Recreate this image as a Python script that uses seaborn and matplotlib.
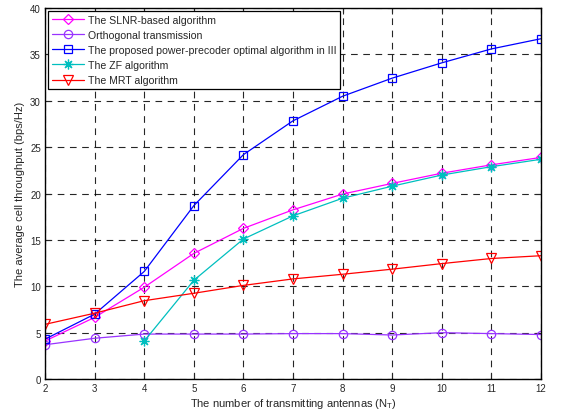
import numpy as np
import pandas as pd
import matplotlib
matplotlib.use('Agg')
import matplotlib.pyplot as plt
import seaborn as sns

# Data
antennas = [2, 3, 4, 5, 6, 7, 8, 9, 10, 11, 12]
slnr = [4.1, 6.65, 9.9, 13.55, 16.25, 18.25, 19.95, 21.1, 22.2, 23.1, 23.9]
orthogonal = [3.7, 4.4, 4.85, 4.85, 4.85, 4.9, 4.9, 4.75, 5.0, 4.9, 4.8]
proposed = [4.3, 7.0, 11.6, 18.7, 24.2, 27.85, 30.5, 32.45, 34.1, 35.6, 36.7]
zf_antennas = [4, 5, 6, 7, 8, 9, 10, 11, 12]
zf = [4.1, 10.65, 15.1, 17.6, 19.5, 20.8, 22.0, 22.9, 23.7]
mrt = [5.9, 7.1, 8.45, 9.25, 10.1, 10.8, 11.3, 11.85, 12.45, 13.0, 13.3]

# MATLAB-like marker shapes; (8, 2, 0) is an 8-armed asterisk
series = [
    ("The SLNR-based algorithm", antennas, slnr, "#ff00ff", "D", 5.0),
    ("Orthogonal transmission", antennas, orthogonal, "#9933ff", "o", 6.0),
    ("The proposed power-precoder optimal algorithm in III", antennas, proposed, "#0000ff", "s", 5.5),
    ("The ZF algorithm", zf_antennas, zf, "#00bfbf", (8, 2, 0), 7.0),
    ("The MRT algorithm", antennas, mrt, "#ff0000", "v", 6.5),
]

sns.set_style("white")
plt.rcParams['font.family'] = ['Liberation Sans', 'DejaVu Sans']
plt.rcParams['font.size'] = 7

fig = plt.figure(figsize=(5.63, 4.14), dpi=100)
ax = fig.add_axes([0.080, 0.082, 0.881, 0.896])

for label, xs, ys, color, marker, msize in series:
    df = pd.DataFrame({"x": xs, "y": ys})
    sns.lineplot(data=df, x="x", y="y", ax=ax, color=color, lw=0.9,
                 marker=marker, markersize=msize, markerfacecolor='none',
                 markeredgecolor=color, markeredgewidth=0.9, label=label)

ax.set_xlim(2, 12)
ax.set_ylim(0, 40)
ax.set_xticks(range(2, 13))
ax.set_yticks(range(0, 41, 5))
ax.grid(True, color='black', linestyle=(0, (6, 5)), linewidth=0.8, alpha=0.85)
ax.tick_params(direction='in', length=4, width=0.8, labelsize=7, pad=3,
               top=True, right=True, bottom=True, left=True)
for sp in ax.spines.values():
    sp.set_color('black')
    sp.set_linewidth(1.0)

ax.set_xlabel("The number of transmitting antennas (N$_\\mathregular{T}$)", fontsize=8, labelpad=2)
ax.set_ylabel("The average cell throughput (bps/Hz)", fontsize=8, labelpad=4)

leg = ax.legend(loc='upper left', fontsize=7.6, frameon=True, fancybox=False,
                borderaxespad=0.3, handlelength=3.0, handletextpad=0.4,
                labelspacing=0.48, borderpad=0.35)
leg.get_frame().set_edgecolor('black')
leg.get_frame().set_linewidth(0.9)
leg.get_frame().set_alpha(1)

fig.savefig("out.png", dpi=100)
